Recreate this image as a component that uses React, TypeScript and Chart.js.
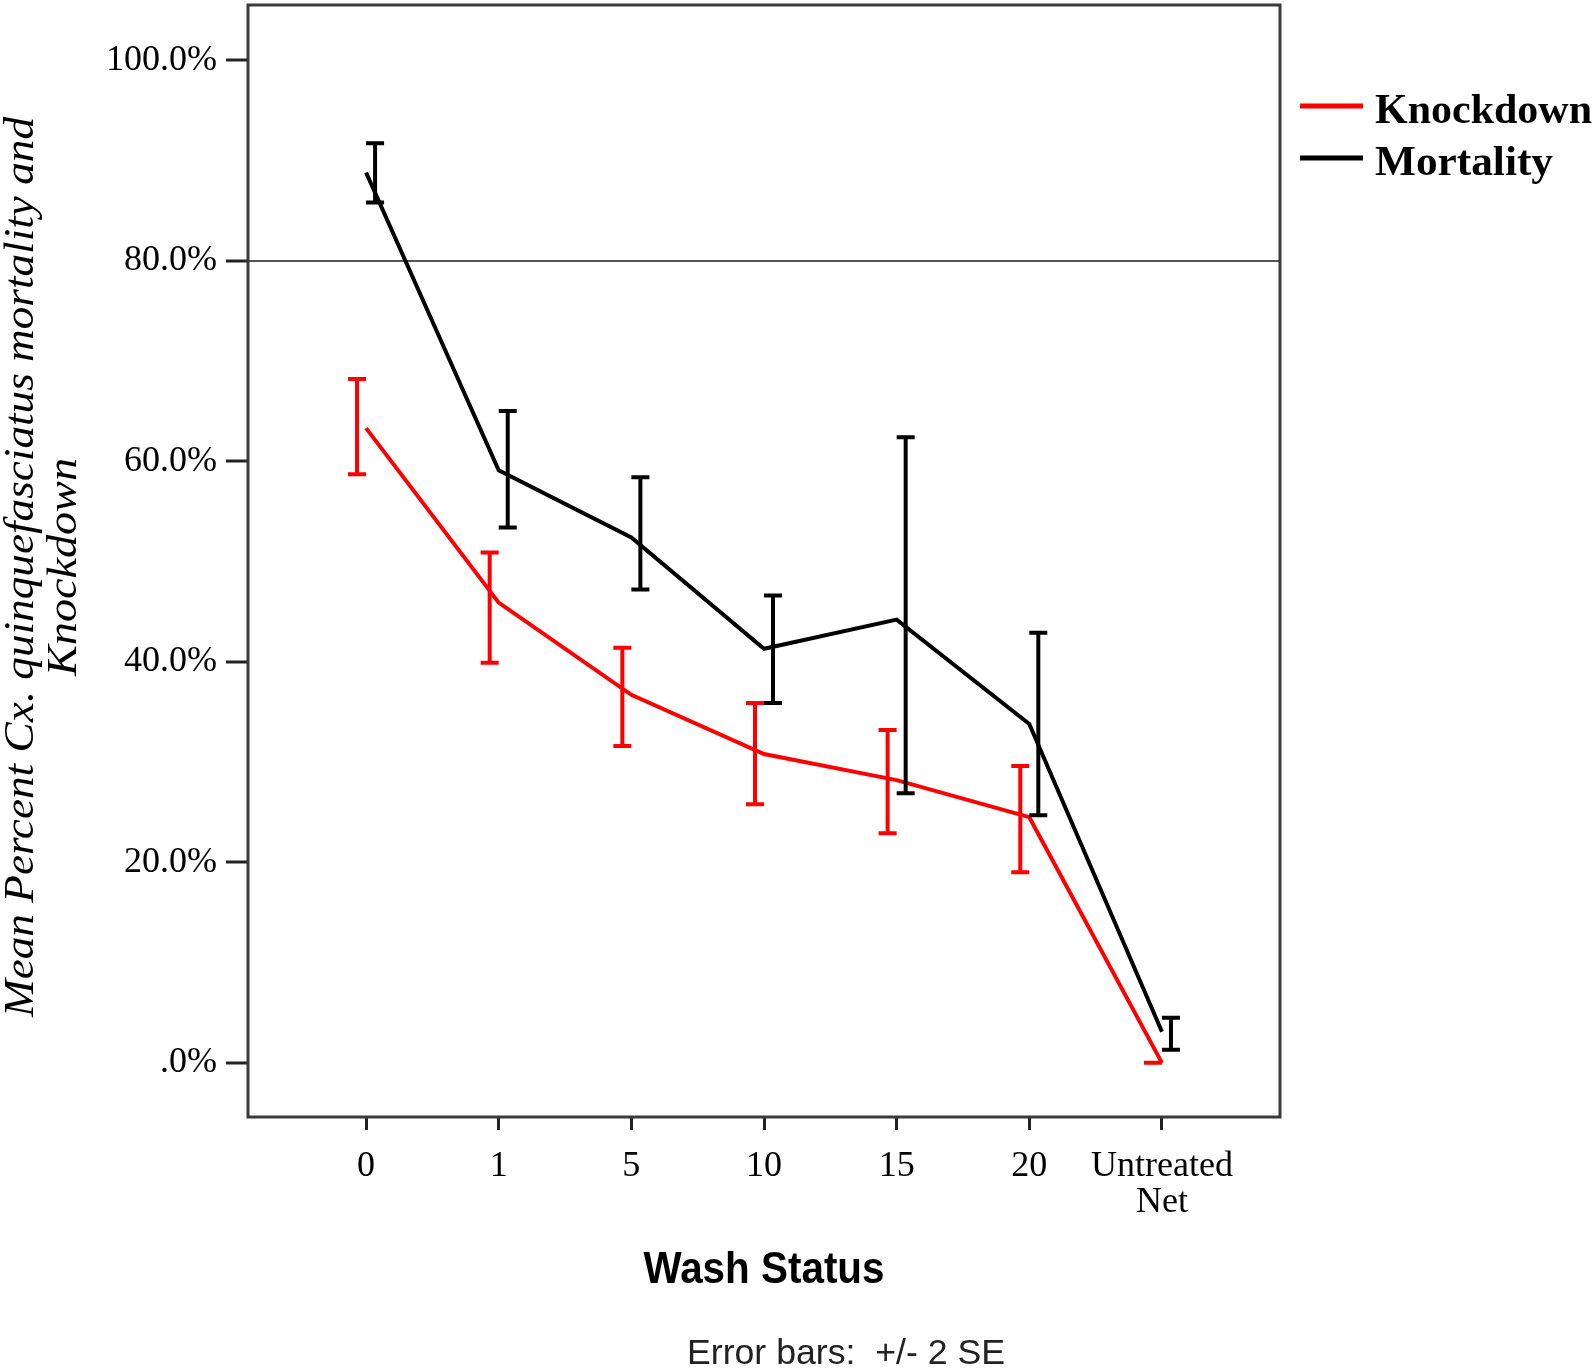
import React, { useEffect, useRef } from "react";
import { Chart, registerables } from "chart.js";

Chart.register(...registerables);

const categories: (string | string[])[] = ["0", "1", "5", "10", "15", "20", ["Untreated", "Net"]];
const knockdownMean = [63.3, 45.9, 36.7, 30.8, 28.2, 24.5, 0.0];
const knockdownLow = [58.7, 39.9, 31.6, 25.8, 22.9, 19.0, 0.0];
const knockdownHigh = [68.2, 50.9, 41.4, 35.9, 33.2, 29.6, 0.0];
const mortalityMean = [88.8, 59.1, 52.4, 41.3, 44.2, 33.8, 3.1];
const mortalityLow = [85.8, 53.4, 47.2, 35.9, 26.9, 24.7, 1.3];
const mortalityHigh = [91.7, 65.0, 58.4, 46.6, 62.4, 42.9, 4.5];
const yTicks = [0, 20, 40, 60, 80, 100];
const referenceLine = 80;

const RED = "#ff0000";
const BLACK = "#000000";

function drawFitted(
  ctx: CanvasRenderingContext2D,
  text: string,
  x: number,
  y: number,
  font: string,
  targetW: number,
  align: CanvasTextAlign
) {
  ctx.save();
  ctx.font = font;
  const w = ctx.measureText(text).width;
  const sx = targetW / w;
  ctx.translate(x, y);
  ctx.scale(sx, 1);
  ctx.textAlign = align;
  ctx.textBaseline = "alphabetic";
  ctx.fillText(text, 0, 0);
  ctx.restore();
}

const decorPlugin = {
  id: "decor",
  afterDatasetsDraw(chart: any) {
    const ctx: CanvasRenderingContext2D = chart.ctx;
    const xs = chart.scales.x;
    const ys = chart.scales.y;
    const series = [
      { low: knockdownLow, high: knockdownHigh, color: RED, dodge: -0.068 },
      { low: mortalityLow, high: mortalityHigh, color: BLACK, dodge: 0.068 },
    ];
    ctx.save();
    for (const s of series) {
      ctx.strokeStyle = s.color;
      ctx.lineCap = "butt";
      for (let i = 0; i < s.low.length; i++) {
        const x = xs.getPixelForValue(i + s.dodge);
        const y1 = ys.getPixelForValue(s.low[i]);
        const y2 = ys.getPixelForValue(s.high[i]);
        ctx.lineWidth = 4;
        ctx.beginPath();
        ctx.moveTo(x, y1);
        ctx.lineTo(x, y2);
        ctx.stroke();
        ctx.beginPath();
        ctx.moveTo(x - 9, y1);
        ctx.lineTo(x + 9, y1);
        ctx.moveTo(x - 9, y2);
        ctx.lineTo(x + 9, y2);
        ctx.stroke();
      }
    }
    ctx.restore();
  },
  afterDraw(chart: any) {
    const ctx: CanvasRenderingContext2D = chart.ctx;
    const a = chart.chartArea;
    ctx.save();
    // frame
    ctx.strokeStyle = "#3a3a3a";
    ctx.lineWidth = 3;
    ctx.strokeRect(a.left, a.top, a.right - a.left, a.bottom - a.top);

    ctx.fillStyle = "#000";
    // y title (rotated, two lines)
    const cy = (a.top + a.bottom) / 2 + 6;
    ctx.save();
    ctx.translate(33, cy);
    ctx.rotate(-Math.PI / 2);
    drawFitted(ctx, "Mean Percent Cx. quinquefasciatus mortality and", 0, 0, "italic 42px 'Liberation Serif'", 900, "center");
    ctx.restore();
    ctx.save();
    ctx.translate(76, cy);
    ctx.rotate(-Math.PI / 2);
    drawFitted(ctx, "Knockdown", 0, 0, "italic 42px 'Liberation Serif'", 218, "center");
    ctx.restore();

    // x title
    const cx = (a.left + a.right) / 2;
    drawFitted(ctx, "Wash Status", cx, 1283, "bold 44px 'Liberation Sans'", 241, "center");
    // footnote
    ctx.fillStyle = "#222";
    drawFitted(ctx, "Error bars:  +/- 2 SE", 846, 1364, "35px 'Liberation Sans'", 318, "center");

    // legend
    const items = [
      { label: "Knockdown", color: RED, y: 106, w: 217 },
      { label: "Mortality", color: BLACK, y: 158, w: 178 },
    ];
    for (const it of items) {
      ctx.strokeStyle = it.color;
      ctx.lineWidth = 5;
      ctx.beginPath();
      ctx.moveTo(1300, it.y);
      ctx.lineTo(1363, it.y);
      ctx.stroke();
      ctx.fillStyle = "#000";
      drawFitted(ctx, it.label, 1375, it.y + 17, "bold 43px 'Liberation Serif'", it.w, "left");
    }
    ctx.restore();
  },
};

export default function App() {
  const ref = useRef<HTMLCanvasElement | null>(null);
  useEffect(() => {
    if (!ref.current) return;
    const chart = new Chart(ref.current, {
      type: "line",
      data: {
        datasets: [
          {
            label: "Knockdown",
            data: knockdownMean.map((v, i) => ({ x: i, y: v })),
            borderColor: RED,
            backgroundColor: RED,
            borderWidth: 4,
            pointRadius: 0,
            tension: 0,
          },
          {
            label: "Mortality",
            data: mortalityMean.map((v, i) => ({ x: i, y: v })),
            borderColor: BLACK,
            backgroundColor: BLACK,
            borderWidth: 4,
            pointRadius: 0,
            tension: 0,
          },
        ],
      },
      options: {
        animation: false,
        responsive: false,
        devicePixelRatio: 1,
        layout: { padding: { top: 5, right: 315, left: 0, bottom: 0 } },
        plugins: { legend: { display: false }, tooltip: { enabled: false } },
        scales: {
          x: {
            type: "linear",
            min: -0.89,
            max: 6.89,
            afterBuildTicks: (s: any) => {
              s.ticks = categories.map((_, i) => ({ value: i }));
            },
            afterFit: (s: any) => {
              s.height = 251;
              s.paddingLeft = 0;
              s.paddingRight = 0;
              s.paddingTop = 0;
              s.paddingBottom = 0;
            },
            border: { display: false },
            grid: {
              display: true,
              drawOnChartArea: false,
              drawTicks: true,
              tickLength: 13,
              tickColor: "#222",
              tickWidth: 3,
            } as any,
            ticks: {
              autoSkip: false,
              maxRotation: 0,
              padding: 19,
              color: "#000",
              font: { family: "'Liberation Serif'", size: 36, lineHeight: 1.0 },
              callback: (v: any) => categories[Math.round(Number(v))] as any,
            },
          },
          y: {
            type: "linear",
            min: -5.4,
            max: 105.5,
            afterBuildTicks: (s: any) => {
              s.ticks = yTicks.map((v) => ({ value: v }));
            },
            afterFit: (s: any) => {
              s.width = 248;
              s.paddingLeft = 0;
              s.paddingRight = 0;
              s.paddingTop = 0;
              s.paddingBottom = 0;
            },
            border: { display: false },
            grid: {
              color: (c: any) => (c.tick && c.tick.value === referenceLine ? "#555" : "rgba(0,0,0,0)"),
              lineWidth: 2,
              drawTicks: true,
              tickLength: 22,
              tickColor: "#222",
              tickWidth: 3,
            } as any,
            ticks: {
              padding: 9,
              color: "#000",
              font: { family: "'Liberation Serif'", size: 36 },
              callback: (v: any) => (Number(v) === 0 ? ".0%" : Number(v).toFixed(1) + "%"),
            },
          },
        },
      },
      plugins: [decorPlugin],
    });
    return () => chart.destroy();
  }, []);
  return (
    <div style={{ position: "fixed", left: 0, top: 0, width: 1595, height: 1368, background: "#fff" }}>
      <canvas ref={ref} width={1595} height={1368} style={{ display: "block" }} />
    </div>
  );
}
